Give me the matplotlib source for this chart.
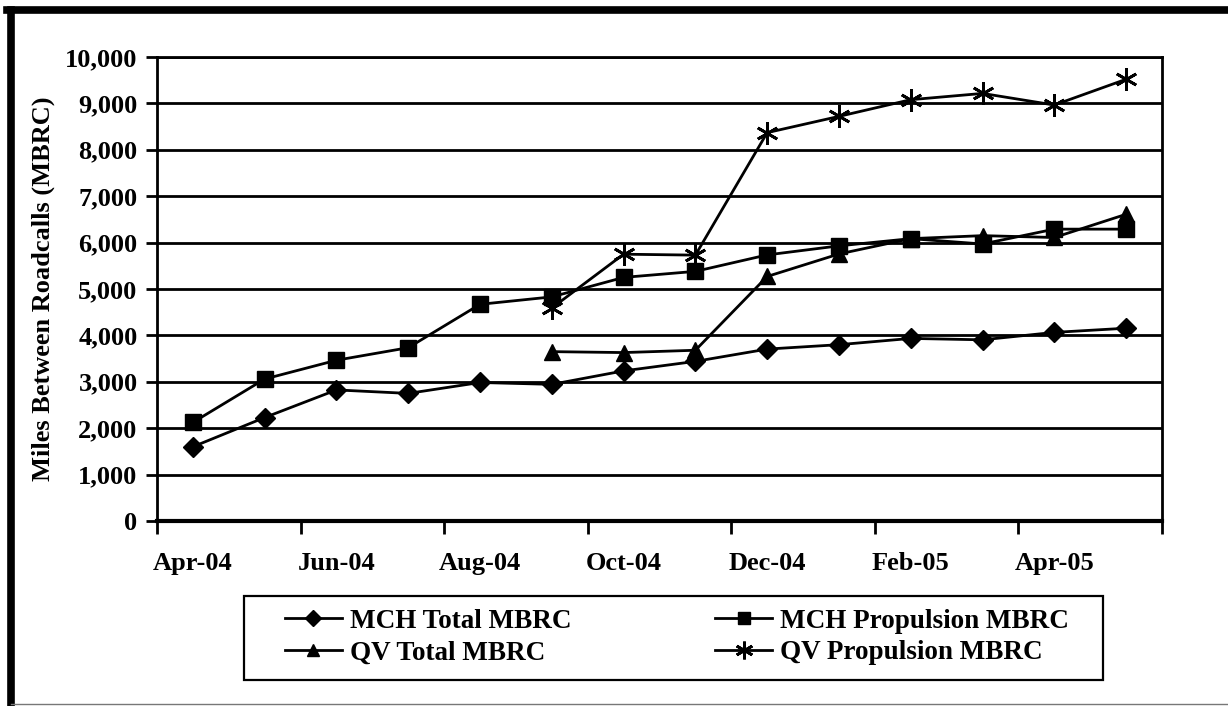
import matplotlib.pyplot as plt
from matplotlib.lines import Line2D
from matplotlib.patches import Rectangle

plt.rcParams["font.family"] = ["Liberation Serif", "DejaVu Serif"]
plt.rcParams["font.weight"] = "bold"

months = ["Apr-04", "May-04", "Jun-04", "Jul-04", "Aug-04", "Sep-04", "Oct-04",
          "Nov-04", "Dec-04", "Jan-05", "Feb-05", "Mar-05", "Apr-05", "May-05"]

mch_total = [1600, 2230, 2825, 2750, 2985, 2945, 3235, 3440, 3705, 3800, 3935, 3905, 4065, 4155]
mch_prop = [2125, 3060, 3465, 3735, 4670, 4830, 5250, 5380, 5735, 5930, 6085, 5970, 6290, 6290]
qv_total = [None, None, None, None, None, 3650, 3630, 3680, 5270, 5755, 6085, 6150, 6110, 6610]
qv_prop = [None, None, None, None, None, 4590, 5750, 5730, 8370, 8720, 9080, 9215, 8965, 9520]

x = list(range(len(months)))
W, H = 1228, 706


def clean(vals):
    xs = [i for i, v in zip(x, vals) if v is not None]
    ys = [v for v in vals if v is not None]
    return xs, ys


fig = plt.figure(figsize=(W / 100, H / 100), dpi=100)
ax = fig.add_axes([157 / W, 1 - 521 / H, 1005 / W, 464 / H])

h1, = ax.plot(*clean(mch_total), color="black", lw=2, marker="D", ms=10, label="MCH Total MBRC")
h2, = ax.plot(*clean(mch_prop), color="black", lw=2, marker="s", ms=11, label="MCH Propulsion MBRC")
h3, = ax.plot(*clean(qv_total), color="black", lw=2, marker="^", ms=11, label="QV Total MBRC")
h4, = ax.plot(*clean(qv_prop), color="black", lw=2, marker=(6, 2, 0), ms=16, mew=2,
              label="QV Propulsion MBRC")

ax.set_xlim(-0.5, 13.5)
ax.set_ylim(0, 10000)
ax.set_yticks(range(0, 10001, 1000))
ax.set_yticklabels([f"{v:,}" for v in range(0, 10001, 1000)])
ax.yaxis.grid(True, color="black", lw=2)
ax.set_axisbelow(True)

ax.set_xticks([i - 0.5 for i in range(0, 15, 2)])
ax.set_xticklabels([])
ax.set_xticks(x[::2], minor=True)
ax.set_xticklabels(months[::2], minor=True)
ax.tick_params(axis="x", which="minor", length=0, pad=22, labelsize=19)
ax.tick_params(axis="x", which="major", length=9, width=2, direction="out")
ax.tick_params(axis="y", length=8, width=2, direction="out", pad=6, labelsize=19)
for lbl in ax.get_xticklabels(minor=True) + ax.get_yticklabels():
    lbl.set_fontweight("bold")

for s in ax.spines.values():
    s.set_linewidth(2)
ax.spines["bottom"].set_linewidth(3)

ax.set_ylabel("Miles Between Roadcalls (MBRC)", fontsize=19, fontweight="bold")
ax.yaxis.set_label_coords(-0.101, 0.5)

# legend box drawn separately; matplotlib fills columns first, so reorder for rows
fig.add_artist(Rectangle((244 / W, 1 - 680 / H), 859 / W, 84 / H, transform=fig.transFigure,
                         fill=False, edgecolor="black", lw=1.6))
handles = [h1, h3, h2, h4]
leg = fig.legend(handles, [h.get_label() for h in handles],
                 loc="center", bbox_to_anchor=(677 / W, 1 - 637 / H), ncol=2,
                 prop={"size": 19.5, "weight": "bold"}, frameon=False,
                 handlelength=2.1, columnspacing=5.3, handletextpad=0.3,
                 borderpad=0, labelspacing=0.25, markerscale=0.8)

# outer chart border
fig.add_artist(Line2D([11 / W, 11 / W], [1 - 10 / H, 0], transform=fig.transFigure,
                      color="black", lw=5.5))
fig.add_artist(Line2D([7 / W, 1], [1 - 10 / H, 1 - 10 / H], transform=fig.transFigure,
                      color="black", lw=5.5))
fig.add_artist(Line2D([11 / W, 1], [2 / H, 2 / H], transform=fig.transFigure,
                      color="#777777", lw=1))

fig.savefig("out.png", dpi=100)
